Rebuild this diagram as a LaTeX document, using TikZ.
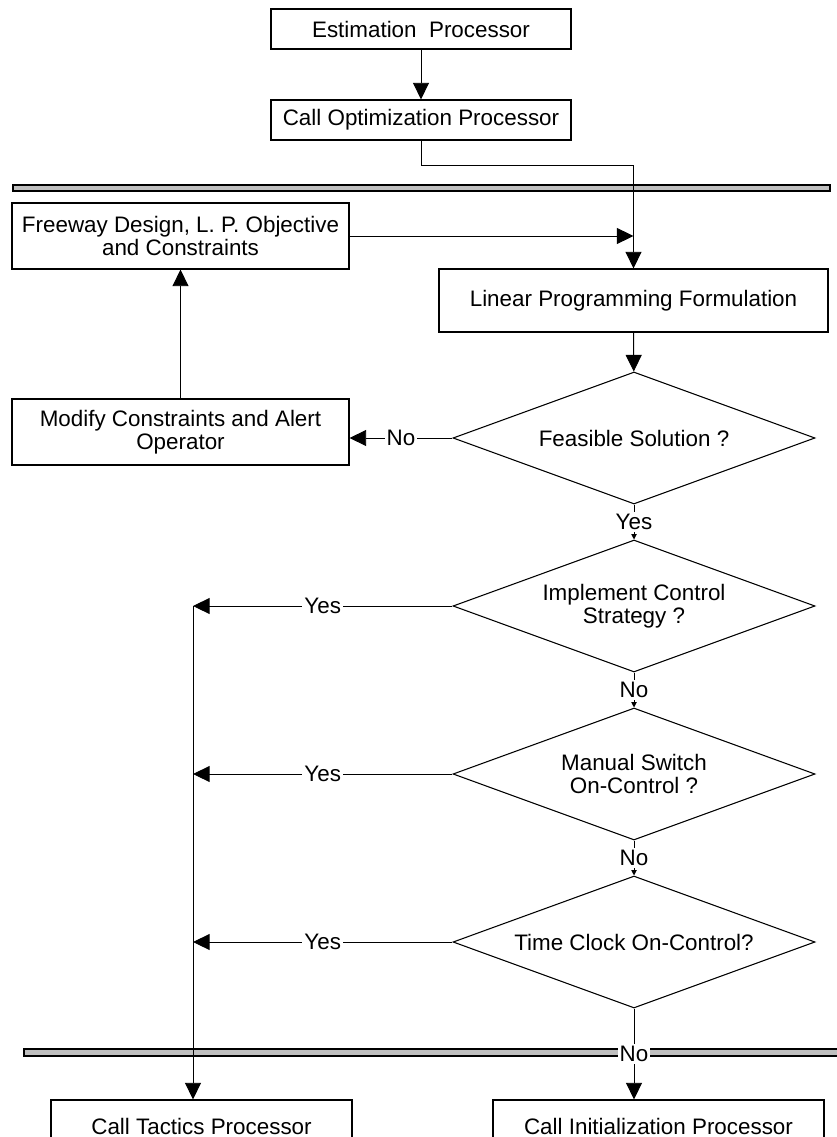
\documentclass[tikz,border=0pt]{standalone}
\usepackage{fontspec}
\setmainfont{Liberation Sans}
\usetikzlibrary{shapes.geometric,arrows.meta}

\tikzset{>={Triangle[length=12.5pt,width=12pt]}}
\tikzset{
  box/.style={rectangle,draw,line width=0.8pt,align=center,inner sep=2pt},
  test/.style={diamond,draw,line width=0.8pt,align=center,aspect=2.74,minimum width=271.5pt,minimum height=99pt,inner sep=0pt},
  lbl/.style={fill=white,inner sep=1.5pt},
  bar/.style={draw,line width=0.9pt,fill=black!25},
  smalltip/.style={-{Triangle[length=4pt,width=4pt]}},
}

\begin{document}
\begin{tikzpicture}[x=0.75pt,y=-0.75pt,line width=0.7pt,font=\fontsize{16.8}{17}\selectfont]
\useasboundingbox (0,0) rectangle (836,1137);

% hatched bars
\draw[bar] (13,185) rectangle (830,191);
\draw[bar] (24,1049) rectangle (840,1056);

\node[box,minimum width=225pt,minimum height=30pt] (est) at (421,29) {Estimation\ \ Processor};
\node[box,minimum width=225pt,minimum height=30pt] (callopt) at (421,120) {Call Optimization Processor};

\node[box,minimum width=252.75pt,minimum height=49.5pt] (fw) at (180.5,236) {Freeway Design, L. P. Objective\\and Constraints};
\node[box,minimum width=291.75pt,minimum height=47.25pt] (lp) at (633.5,300.5) {Linear Programming Formulation};
\node[box,minimum width=252.75pt,minimum height=49.5pt] (mod) at (180.5,432) {Modify Constraints and Alert\\Operator};

\node[test] (d1) at (634,438) {Feasible Solution ?};
\node[test] (d2) at (634,606) {Implement Control\\Strategy ?};
\node[test] (d3) at (634,774) {Manual Switch\\On-Control ?};
\node[test] (d4) at (634,942) {Time Clock On-Control?};

\node[box,minimum width=225.75pt,minimum height=39pt] (tac) at (201.5,1126) {Call Tactics Processor};
\node[box,minimum width=248.25pt,minimum height=39pt] (init) at (658.5,1126) {Call Initialization Processor};

\coordinate (side) at (193,0);

% top part
\draw[->] (est) -- (callopt);
\draw[->] (callopt.south) -- ++(0,25) -| (lp.north);
\draw[->] (fw.east) -- (fw.east -| lp.north);
\draw[->] (lp) -- (d1);
\draw[->] (d1.west) -- node[lbl] {No} (d1.west -| mod.east);
\draw[->] (mod) -- (fw);

% decisions
\draw[smalltip] (d1.south) -- node[lbl] {Yes} (d2.north);
\draw[smalltip] (d2.south) -- node[lbl] {No} (d3.north);
\draw[smalltip] (d3.south) -- node[lbl] {No} (d4.north);
\draw[->] (d4.south) -- node[lbl] {No} (d4.south |- init.north);

\draw[->] (d2.west) -- node[lbl] {Yes} (d2.west -| side);
\draw[->] (d3.west) -- node[lbl] {Yes} (d3.west -| side);
\draw[->] (d4.west) -- node[lbl] {Yes} (d4.west -| side);
\draw[->] (d2.west -| side) -- (tac.north -| side);

\end{tikzpicture}
\end{document}
